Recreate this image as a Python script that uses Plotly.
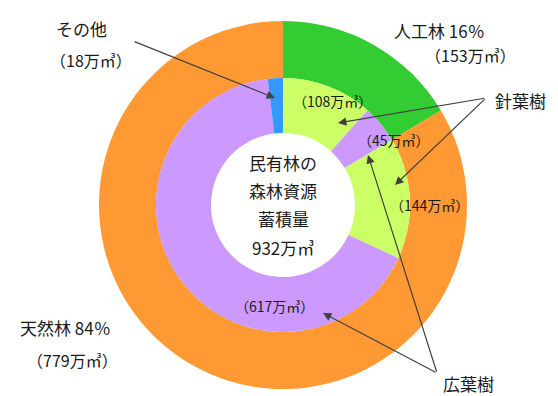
import plotly.graph_objects as go

# Forest stock of privately owned forests (unit: 10,000 m3)
outer_labels = ["人工林", "天然林"]
outer_values = [153, 779]

inner_labels = ["針葉樹", "広葉樹", "針葉樹", "広葉樹", "その他"]
inner_groups = ["人工林", "人工林", "天然林", "天然林", "天然林"]
inner_values = [108, 45, 144, 617, 18]

total = sum(outer_values)

outer_colors = ["#33cc33", "#ff9933"]
inner_colors = ["#ccff66", "#cc99ff", "#ccff66", "#cc99ff", "#3399ff"]

W, H = 558, 396
CX, CY = 283, 205          # pie centre in pixels (from top-left)
R_OUT, R_MID, R_HOLE = 184, 127, 72


def dom(r):
    return dict(x=[(CX - r) / W, (CX + r) / W],
                y=[(H - CY - r) / H, (H - CY + r) / H])


fig = go.Figure()
fig.add_trace(go.Pie(
    labels=outer_labels, values=outer_values, sort=False, direction="clockwise",
    rotation=0, hole=R_MID / R_OUT, domain=dom(R_OUT),
    marker=dict(colors=outer_colors, line=dict(width=0)),
    textinfo="none", hoverinfo="label+value", showlegend=False))
fig.add_trace(go.Pie(
    labels=[f"{g}・{l}" for g, l in zip(inner_groups, inner_labels)],
    values=inner_values, sort=False, direction="clockwise",
    rotation=0, hole=R_HOLE / R_MID, domain=dom(R_MID),
    marker=dict(colors=inner_colors, line=dict(width=0)),
    textinfo="none", hoverinfo="label+value", showlegend=False))

FONT = "Noto Sans CJK JP, sans-serif"
TXT = "#1a1a1a"


def px(x, y):
    return x / W, 1 - y / H


def label(x, y, text, size=14):
    fx, fy = px(x, y)
    fig.add_annotation(x=fx, y=fy, xref="paper", yref="paper", text=text,
                       showarrow=False, font=dict(family=FONT, size=size, color=TXT),
                       xanchor="center", yanchor="middle")


def arrow(tail, head):
    hx, hy = px(*head)
    fig.add_annotation(x=hx, y=hy, xref="paper", yref="paper", text="",
                       showarrow=True, ax=tail[0] - head[0], ay=tail[1] - head[1],
                       arrowhead=2, arrowsize=1.4, arrowwidth=1.2,
                       arrowcolor="#404040", standoff=0)


def amount(v):
    return f"（{v}万㎥）"


pct = [round(v / total * 100) for v in outer_values]

# centre caption
for y, t in zip([162, 191, 219, 247], ["民有林の", "森林資源", "蓄積量", f"{total}万㎥"]):
    label(283, y, t, size=17)

# outer ring labels
label(439, 30, f"{outer_labels[0]} {pct[0]}％", 17)
label(470, 55, amount(outer_values[0]), 16)
label(65, 327, f"{outer_labels[1]} {pct[1]}％", 17)
label(72, 360, amount(outer_values[1]), 16)

# inner ring value labels
label(332, 101, amount(inner_values[0]), 14)
label(394, 140, amount(inner_values[1]), 14)
label(430, 205, amount(inner_values[2]), 14)
label(274, 306, amount(inner_values[3]), 14)

# その他
label(81, 29, inner_labels[4], 17)
label(91, 60, amount(inner_values[4]), 16)
arrow((133, 41), (275, 98))

# 針葉樹 callout
label(520, 100, inner_labels[0], 17)
arrow((486, 98), (338, 123))
arrow((486, 98), (395, 185))

# 広葉樹 callout
label(468, 383, inner_labels[1], 17)
arrow((437, 373), (323, 313))
arrow((437, 373), (368, 155))

fig.update_layout(width=W, height=H, margin=dict(l=0, r=0, t=0, b=0),
                  paper_bgcolor="white", plot_bgcolor="white")
fig.write_html("out.html")
